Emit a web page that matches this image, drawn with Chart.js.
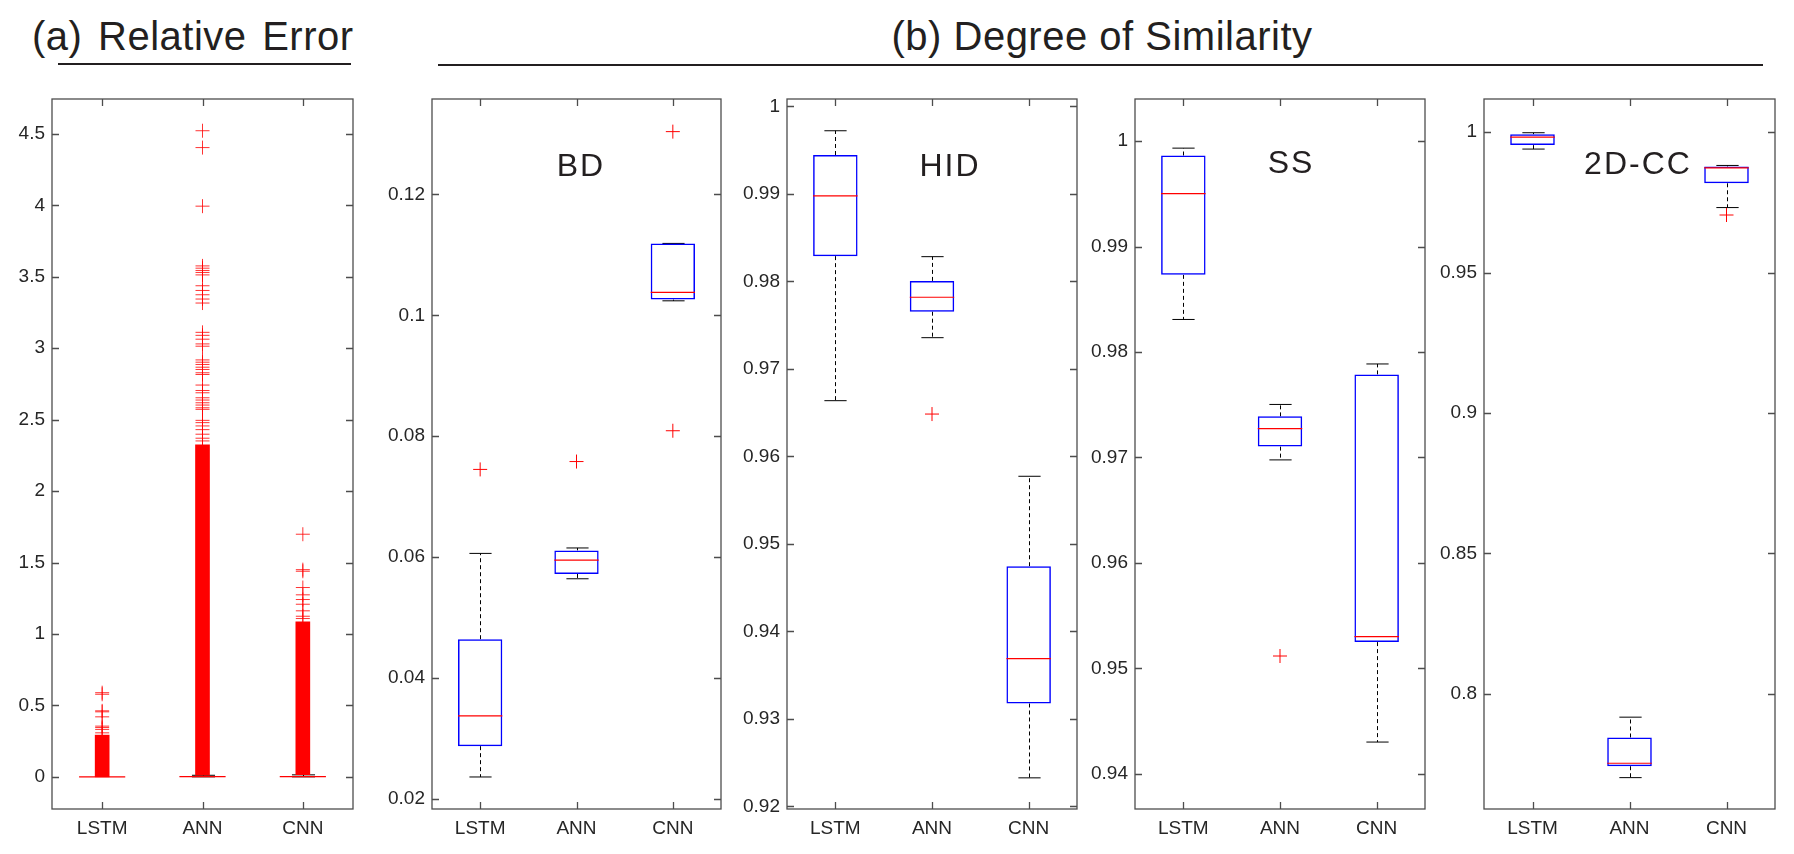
<!DOCTYPE html>
<html>
<head>
<meta charset="utf-8">
<script src="https://cdn.jsdelivr.net/npm/chart.js@4.4.0/dist/chart.umd.min.js"></script>
<style>
  body { margin: 0; background: #fff; }
  #page { position: relative; width: 1794px; height: 854px; overflow: hidden;
          font-family: "Liberation Sans", Arial, sans-serif; color: #231f20; }
  canvas { position: absolute; }
  .title { position: absolute; font-size: 40px; line-height: 40px; white-space: nowrap; letter-spacing: 0.5px; }
  .rule { position: absolute; height: 2px; background: #231f20; }
  .tag { position: absolute; font-size: 32px; line-height: 32px; letter-spacing: 2px;
         white-space: nowrap; transform: translateX(-50%); }
</style>
</head>
<body>
<div id="page">
  <div class="title" style="left:32px; top:16px; word-spacing:4px;">(a) Relative Error</div>
  <div class="rule" style="left:58px; top:63px; width:293px;"></div>
  <div class="title" style="left:1102px; top:16px; transform:translateX(-50%);">(b) Degree of Similarity</div>
  <div class="rule" style="left:438px; top:64px; width:1325px;"></div>

  <canvas id="re"></canvas>
  <canvas id="bd"></canvas>
  <canvas id="hid"></canvas>
  <canvas id="ss"></canvas>
  <canvas id="cc"></canvas>

  <div class="tag" style="left:581px; top:149px;">BD</div>
  <div class="tag" style="left:950px; top:149px;">HID</div>
  <div class="tag" style="left:1291px; top:146px;">SS</div>
  <div class="tag" style="left:1638px; top:147px;">2D-CC</div>
</div>

<script>
const categories = ['LSTM', 'ANN', 'CNN'];

// (a) relative error
const reTicks = [0, 0.5, 1, 1.5, 2, 2.5, 3, 3.5, 4, 4.5];
const reQ1 = [0, 0, 0];
const reMed = [0, 0.001, 0.001];
const reQ3 = [0, 0.004, 0.004];
const reLow = [0, 0, 0];
const reHigh = [0, 0.011, 0.014];
// outliers so dense they merge into a solid band
const reBandLow = [0, 0.012, 0.015];
const reBandHigh = [0.292, 2.323, 1.085];
const reOutLSTM = [0.589, 0.578, 0.462, 0.455, 0.42, 0.355, 0.345, 0.332, 0.308];
const reOutANN = [4.522, 4.404, 3.994, 3.576, 3.56, 3.544, 3.53, 3.513, 3.437, 3.404,
  3.374, 3.344, 3.316, 3.111, 3.09, 3.063, 3.03, 3.014, 2.918, 2.902, 2.886, 2.867,
  2.851, 2.828, 2.816, 2.742, 2.704, 2.688, 2.653, 2.637, 2.618, 2.602, 2.583, 2.572,
  2.495, 2.479, 2.456, 2.43, 2.398, 2.37, 2.351];
const reOutCNN = [1.698, 1.45, 1.439, 1.325, 1.274, 1.241, 1.208, 1.162, 1.124, 1.108];

// (b) BD
const bdTicks = [0.02, 0.04, 0.06, 0.08, 0.1, 0.12];
const bdQ1 = [0.0287, 0.0572, 0.1026];
const bdMed = [0.0337, 0.0595, 0.1038];
const bdQ3 = [0.0464, 0.0611, 0.1119];
const bdLow = [0.0236, 0.0564, 0.1024];
const bdHigh = [0.0606, 0.0615, 0.1119];
const bdOut = [[0.0745], [0.0758], [0.1304, 0.0809]];

// (b) HID
const hidTicks = [0.92, 0.93, 0.94, 0.95, 0.96, 0.97, 0.98, 0.99, 1];
const hidQ1 = [0.98289, 0.97654, 0.93176];
const hidMed = [0.98977, 0.97819, 0.93688];
const hidQ3 = [0.99445, 0.98006, 0.94745];
const hidLow = [0.96637, 0.97357, 0.92326];
const hidHigh = [0.99722, 0.98283, 0.95773];
const hidOut = [[], [0.96484], []];

// (b) SS
const ssTicks = [0.94, 0.95, 0.96, 0.97, 0.98, 0.99, 1];
const ssQ1 = [0.98732, 0.97103, 0.95249];
const ssMed = [0.99502, 0.97273, 0.95301];
const ssQ3 = [0.99864, 0.9739, 0.97788];
const ssLow = [0.98309, 0.96977, 0.94301];
const ssHigh = [0.99934, 0.97503, 0.97887];
const ssOut = [[], [0.95117], []];

// (b) 2D-CC
const ccTicks = [0.8, 0.85, 0.9, 0.95, 1];
const ccQ1 = [0.99541, 0.77423, 0.98182];
const ccMed = [0.99823, 0.77529, 0.98729];
const ccQ3 = [0.99929, 0.78447, 0.98782];
const ccLow = [0.994, 0.77017, 0.97317];
const ccHigh = [0.99982, 0.7917, 0.98817];
const ccOut = [[], [], [0.97052]];

// layout
const BOX_FRAC = 0.46;
const AXIS_W = 52, PAD_TOP = 20, PAD_RIGHT = 15, X_H = 40;
const FRAME_TOP = 99, FRAME_H = 710;

Chart.defaults.font.family = '"Liberation Sans", Arial, sans-serif';
Chart.defaults.color = '#262626';

// matlab style box with inward ticks on all four sides
const axisFrame = {
  id: 'axisFrame',
  afterDraw(chart) {
    const { ctx, chartArea: a } = chart;
    const x = chart.scales.x, y = chart.scales.y;
    ctx.save();
    ctx.strokeStyle = '#4d4d4d';
    ctx.lineWidth = 1.3;
    ctx.strokeRect(a.left, a.top, a.right - a.left, a.bottom - a.top);
    ctx.beginPath();
    y.ticks.forEach(t => {
      const py = Math.round(y.getPixelForValue(t.value)) + 0.5;
      ctx.moveTo(a.left, py); ctx.lineTo(a.left + 7, py);
      ctx.moveTo(a.right, py); ctx.lineTo(a.right - 7, py);
    });
    x.ticks.forEach((t, i) => {
      const px = Math.round(x.getPixelForTick(i)) + 0.5;
      ctx.moveTo(px, a.top); ctx.lineTo(px, a.top + 7);
      ctx.moveTo(px, a.bottom); ctx.lineTo(px, a.bottom - 7);
    });
    ctx.stroke();
    ctx.restore();
  }
};

// whiskers go under the box, median on top
const boxLines = {
  id: 'boxLines',
  beforeDatasetsDraw(chart, args, opts) {
    const { ctx } = chart;
    const x = chart.scales.x, y = chart.scales.y;
    const half = (x.getPixelForValue(1) - x.getPixelForValue(0)) * BOX_FRAC / 2;
    ctx.save();
    ctx.strokeStyle = '#000';
    ctx.lineWidth = 1;
    opts.low.forEach((lo, i) => {
      const cx = Math.round(x.getPixelForValue(i)) + 0.5;
      const yLo = y.getPixelForValue(lo), yHi = y.getPixelForValue(opts.high[i]);
      const yQ1 = y.getPixelForValue(opts.q1[i]), yQ3 = y.getPixelForValue(opts.q3[i]);
      ctx.setLineDash([4, 3]);
      ctx.beginPath();
      ctx.moveTo(cx, yQ3); ctx.lineTo(cx, yHi);
      ctx.moveTo(cx, yQ1); ctx.lineTo(cx, yLo);
      ctx.stroke();
      ctx.setLineDash([]);
      if (opts.high[i] !== opts.low[i]) {
        ctx.beginPath();
        ctx.moveTo(cx - half / 2, yHi); ctx.lineTo(cx + half / 2, yHi);
        ctx.moveTo(cx - half / 2, yLo); ctx.lineTo(cx + half / 2, yLo);
        ctx.stroke();
      }
    });
    ctx.restore();
  },
  afterDatasetsDraw(chart, args, opts) {
    const { ctx } = chart;
    const x = chart.scales.x, y = chart.scales.y;
    const half = (x.getPixelForValue(1) - x.getPixelForValue(0)) * BOX_FRAC / 2;
    ctx.save();
    ctx.strokeStyle = '#ff0000';
    ctx.lineWidth = 1.2;
    opts.med.forEach((m, i) => {
      const cx = x.getPixelForValue(i);
      const ym = y.getPixelForValue(m);
      ctx.beginPath();
      ctx.moveTo(cx - half, ym); ctx.lineTo(cx + half, ym);
      ctx.stroke();
    });
    ctx.restore();
  }
};

function boxPanel(id, frameLeft, frameWidth, yMin, yMax, ticks, q1, med, q3, low, high, outliers, band, crossColor) {
  const canvas = document.getElementById(id);
  canvas.width = frameWidth + AXIS_W + PAD_RIGHT;
  canvas.height = FRAME_H + PAD_TOP + X_H;
  canvas.style.left = (frameLeft - AXIS_W) + 'px';
  canvas.style.top = (FRAME_TOP - PAD_TOP) + 'px';

  // category scale needs the label string, a bare number would be read as the data index
  const outPoints = [];
  outliers.forEach((list, i) => list.forEach(v => outPoints.push({ x: categories[i], y: v })));

  const datasets = [{
    type: 'scatter',
    data: outPoints,
    pointStyle: 'cross',
    pointRadius: 7,
    pointBorderWidth: 1,
    borderColor: crossColor,
    backgroundColor: crossColor,
    order: 0
  }];
  if (band) {
    datasets.push({
      type: 'bar',
      data: band[0].map((lo, i) => [lo, band[1][i]]),
      backgroundColor: '#ff0000',
      borderWidth: 0,
      barThickness: 14,
      grouped: false,
      order: 1
    });
  }
  datasets.push({
    type: 'bar',
    data: q1.map((v, i) => [v, q3[i]]),
    backgroundColor: 'rgba(0,0,0,0)',
    borderColor: '#0000ff',
    borderWidth: 1.5,
    borderSkipped: false,
    categoryPercentage: BOX_FRAC,
    barPercentage: 1,
    grouped: false,
    order: 2
  });

  return new Chart(canvas, {
    type: 'bar',
    data: { labels: categories, datasets: datasets },
    options: {
      responsive: false,
      animation: false,
      layout: { padding: { top: PAD_TOP, right: PAD_RIGHT, left: 0, bottom: 0 } },
      scales: {
        x: {
          type: 'category',
          offset: true,
          grid: { display: false, drawTicks: false },
          border: { display: false },
          ticks: { font: { size: 19 }, padding: 8, maxRotation: 0 },
          afterFit: s => { s.height = X_H; }
        },
        y: {
          type: 'linear',
          min: yMin,
          max: yMax,
          grid: { display: false, drawTicks: false },
          border: { display: false },
          ticks: {
            font: { size: 19 },
            padding: 7,
            callback: v => String(parseFloat(v.toFixed(4)))
          },
          afterBuildTicks: s => { s.ticks = ticks.map(v => ({ value: v })); },
          afterFit: s => { s.width = AXIS_W; }
        }
      },
      plugins: {
        legend: { display: false },
        tooltip: { enabled: false },
        boxLines: { q1: q1, med: med, q3: q3, low: low, high: high }
      }
    },
    plugins: [axisFrame, boxLines]
  });
}

boxPanel('re', 52, 301, -0.225, 4.744, reTicks, reQ1, reMed, reQ3, reLow, reHigh,
  [reOutLSTM, reOutANN, reOutCNN], [reBandLow, reBandHigh], 'rgba(255,0,0,0.8)');
boxPanel('bd', 432, 289, 0.0183, 0.1358, bdTicks, bdQ1, bdMed, bdQ3, bdLow, bdHigh, bdOut, null, '#ff0000');
boxPanel('hid', 787, 290, 0.9197, 1.00085, hidTicks, hidQ1, hidMed, hidQ3, hidLow, hidHigh, hidOut, null, '#ff0000');
boxPanel('ss', 1135, 290, 0.93666, 1.004, ssTicks, ssQ1, ssMed, ssQ3, ssLow, ssHigh, ssOut, null, '#ff0000');
boxPanel('cc', 1484, 291, 0.759, 1.01183, ccTicks, ccQ1, ccMed, ccQ3, ccLow, ccHigh, ccOut, null, '#ff0000');
</script>
</body>
</html>
